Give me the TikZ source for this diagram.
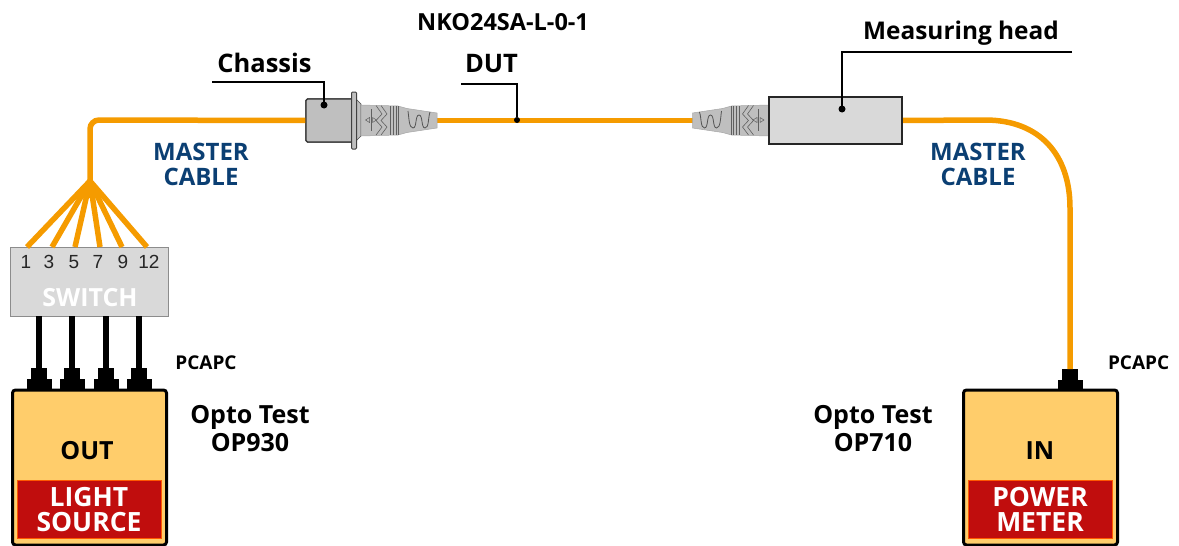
\documentclass[tikz,border=0pt]{standalone}
\usepackage{fontspec}
\setmainfont{Open Sans}
\newfontfamily\arialf{Liberation Sans}
\definecolor{cableor}{HTML}{F59B00}
\definecolor{boxyel}{HTML}{FFCD6B}
\definecolor{boxred}{HTML}{C00D0D}
\definecolor{lightg}{HTML}{D9D9D9}
\definecolor{midg}{HTML}{BFBFBF}
\definecolor{blueT}{HTML}{0B3F73}
\newcommand{\sz}[2]{\fontsize{#1}{#2}\selectfont\bfseries}
\tikzset{
  every node/.style={inner sep=0pt,outer sep=0pt},
  cable/.style={draw=cableor,line width=5.5pt},
  fan/.style={draw=cableor,line width=5.5pt},
  blackcable/.style={draw=black,line width=5.5pt},
  leader/.style={draw=black,line width=1.4pt},
  dotmark/.style={circle,fill=black,minimum size=7pt},
  instrument/.style={draw=black,line width=3pt,fill=boxyel,rounded corners=3pt,minimum width=154pt,minimum height=155pt},
  redpanel/.style={draw=orange!70!red,line width=0.6pt,fill=boxred,minimum width=144pt,minimum height=58pt},
  redtext/.style={text=white,align=center,font=\sz{26.5}{25}},
  darktext/.style={text=black,font=\sz{25}{28},align=center},
  labeltext/.style={text=black,font=\sz{25}{26}},
  bluetext/.style={text=blueT,align=center,font=\sz{24}{24.5}},
  smalltext/.style={text=black,font=\sz{19}{18}},
  digit/.style={text=black!85,font=\arialf\fontsize{19}{20}\selectfont},
  portup/.style={minimum width=16pt,minimum height=11pt,fill=black,anchor=north},
  portlow/.style={minimum width=25pt,minimum height=10.5pt,fill=black,anchor=north},
  chassisbox/.style={minimum width=47pt,minimum height=43pt,draw=black!80,fill=midg,line width=1.3pt,rounded corners=1.5pt,anchor=north west},
  headbox/.style={minimum width=133pt,minimum height=47pt,draw=black!85,fill=lightg,line width=1.5pt,anchor=north west},
  connector/.pic={
    \fill[fill=midg,draw=gray!70,line width=.5pt] (0,-15) -- (37,-14) -- (46,-11.5) -- (76,-7) -- (76,8) -- (46,12.5) -- (37,15) -- (0,16) -- cycle;
    \foreach \cx in {15,20}{\draw[gray!75!black,line width=.6pt] (\cx,-14.5) -- (\cx+6,-6) -- (\cx,.5) -- (\cx+6,7) -- (\cx,15);}
    \foreach \gx in {29,32,35,37}{\draw[gray!75!black,line width=.5pt] (\gx,-14) -- (\gx,14.5);}
    \draw[gray!65!black,line width=.8pt] (47,-9) .. controls (48,-2) and (48,8) .. (52,8) .. controls (56,8) and (54,-5) .. (58,-5) .. controls (62,-5) and (60,8) .. (64,8) .. controls (68,8) and (67,-2) .. (69,-8);
    \draw[gray!75!black,line width=.5pt] (10,-11) -- (10,11);
    \draw[gray!75!black,line width=.5pt] (8.5,-2.5) -- (4.5,0) -- (8.5,2.5) -- cycle;
    \draw[gray!75!black,line width=.5pt] (11.5,-2.5) -- (15.5,0) -- (11.5,2.5) -- cycle;
  }
}
\begin{document}
\begin{tikzpicture}[x=1pt,y=-1pt]
\useasboundingbox (0,0) rectangle (1179,546);
\begin{scope}
\clip (0,0) rectangle (1168,546);

% anchors on the cable
\coordinate (apex) at (90,181);
\coordinate (f1) at (27,247);
\coordinate (f3) at (52,247);
\coordinate (f5) at (75,247);
\coordinate (f7) at (100,247);
\coordinate (f9) at (122,247);
\coordinate (f12) at (147,247);
\coordinate (sw39) at (39,316);
\coordinate (sw72) at (72,316);
\coordinate (sw106) at (106,316);
\coordinate (sw139) at (139,316);
\coordinate (cornerTL) at (90,120);

% nodes
\node[instrument,anchor=north west] (source) at (12.5,390) {};
\node[instrument,anchor=north west] (meter) at (963.5,390) {};
\node[minimum width=158pt,minimum height=69pt,draw=gray!90,fill=lightg,line width=1pt,anchor=north west] (switch) at (10.5,247.5) {};
\node[chassisbox] (chassis) at (306,99) {};
\node[headbox] (head) at (769,97) {};
\node[portup] (p1u) at (39,368) {};
\node[portlow] (p1) at (39.5,379) {};
\node[portup] (p2u) at (72,368) {};
\node[portlow] (p2) at (72.5,379) {};
\node[portup] (p3u) at (106,368) {};
\node[portlow] (p3) at (106,379) {};
\node[portup] (p4u) at (139,368) {};
\node[portlow] (p4) at (139,379) {};
\node[portup] (p5u) at (1070,369) {};
\node[portlow] (p5) at (1070,380) {};

% cables
\draw[cable,rounded corners=9pt] (apex) -- (cornerTL) -- (chassis.west);
\draw[cable] (chassis.east) -- (head.west);
\draw[cable] (head.east) -- (985,120) .. controls (1040,120) and (1070,155) .. (1070,208) -- (p5u.north);
\fill[cableor] (apex) ++(0,-2) -- ++(-17,19) -- ++(34,0) -- cycle;
\foreach \e in {f1,f3,f5,f7,f9,f12}{\draw[fan] (apex) -- (\e);}
\draw[blackcable] (sw39) -- (p1u.north);
\draw[blackcable] (sw72) -- (p2u.north);
\draw[blackcable] (sw106) -- (p3u.north);
\draw[blackcable] (sw139) -- (p4u.north);

% redraw the shapes the cables run into
\node[chassisbox] at (306,99) {};
\draw[draw=black!70,fill=midg,line width=.6pt] (356,99) -- (361,104) -- (361,136) -- (356,141) -- cycle;
\node[minimum width=5pt,minimum height=57pt,draw=black!75,fill=midg,line width=1pt,rounded corners=1pt,anchor=north west] (flange) at (351.5,92) {};
\pic at (361,120) {connector};
\pic[xscale=-1] at (768.5,120) {connector};
\node[headbox] at (769,97) {};

% leaders
\node[dotmark] (dotC) at (324,105) {};
\node[dotmark,minimum size=6pt] (dotD) at (517,120) {};
\node[dotmark] (dotH) at (842,109) {};
\coordinate (lC) at (212,82);
\coordinate (lD) at (461,84);
\coordinate (lH) at (1072,52);
\draw[leader] (lC) -| (dotC);
\draw[leader] (lD) -| (dotD);
\draw[leader] (lH) -| (dotH);

% red panels
\node[redpanel,anchor=north west] (lspanel) at (17,480.5) {};
\node[redpanel,anchor=north west] (pmpanel) at (968,480.5) {};

% texts
\node[redtext] (lstext) at (lspanel.center) {LIGHT\\SOURCE};
\node[redtext] (pmtext) at (pmpanel.center) {POWER\\METER};
\node[font=\sz{25}{26}] (out) at (87,451) {OUT};
\node[font=\sz{25}{26}] (in) at (1040,451) {IN};
\node[text=white,font=\sz{25}{25}] (swtext) at (90,297.5) {SWITCH};
\node[digit] (d1) at (26,262) {1};
\node[digit] (d3) at (49,262) {3};
\node[digit] (d5) at (74,262) {5};
\node[digit] (d7) at (98,262) {7};
\node[digit] (d9) at (123,262) {9};
\node[digit] (d12) at (149,262) {12};

\node[labeltext,font=\sz{23.5}{24}] (nko) at (503,22) {NKO24SA-L-0-1};
\node[labeltext,font=\sz{25.5}{26}] (chassislabel) at (264.5,63) {Chassis};
\node[labeltext,font=\sz{25.5}{26}] (dut) at (491.5,63.5) {DUT};
\node[labeltext,font=\sz{24.4}{26}] (headlabel) at (961,33.5) {Measuring head};
\node[bluetext] (mc1) at (201,164.5) {MASTER\\CABLE};
\node[bluetext] (mc2) at (978,164.5) {MASTER\\CABLE};
\node[smalltext] (pc1) at (206,363) {PCAPC};
\node[smalltext,anchor=west] (pc2) at (1108,363) {PCAPC};
\node[darktext] (op930) at (250,429) {Opto Test\\OP930};
\node[darktext] (op710) at (873,429) {Opto Test\\OP710};
\end{scope}
\end{tikzpicture}
\end{document}
